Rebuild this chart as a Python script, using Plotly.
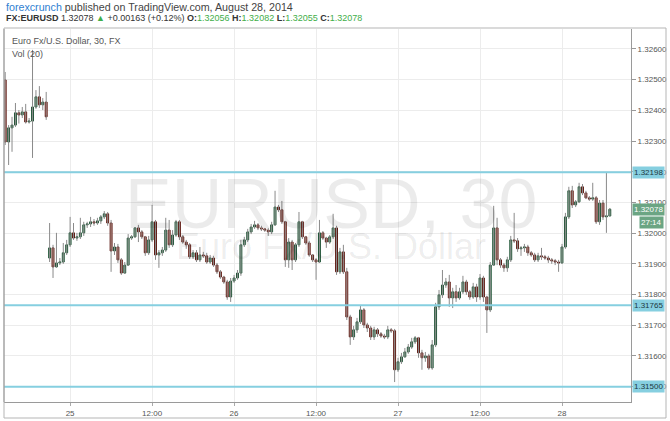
import plotly.graph_objects as go

# ---------------- data (EUR/USD, 30 min bars) ----------------
opens = [1.32499, 1.32297, 1.32343, 1.32352, 1.32392, 1.32385, 1.32395, 1.32362, 1.32365, 1.32411,
         1.32444, 1.32418, 1.32427,
         1.31919, 1.31952, 1.31890, 1.31903, 1.31906, 1.31936, 1.31962, 1.32001, 1.31984, 1.31988,
         1.32001, 1.32027, 1.32030, 1.32037, 1.32033, 1.32040, 1.32053, 1.32063, 1.32033, 1.31942,
         1.31955, 1.31913, 1.31870, 1.31896, 1.31984, 1.31988, 1.32017, 1.32004, 1.31988, 1.31936,
         1.31978, 1.32037, 1.31929, 1.31936, 1.31945, 1.32010, 1.31962, 1.31994, 1.32037, 1.31988,
         1.31971, 1.31962, 1.31923, 1.31936, 1.31913, 1.31929, 1.31926, 1.31906, 1.31919, 1.31896,
         1.31874, 1.31857, 1.31841, 1.31792, 1.31844, 1.31854, 1.31870, 1.31962, 1.31978, 1.32004,
         1.32020, 1.32027, 1.32017, 1.32014, 1.32010, 1.32004, 1.32027, 1.32085, 1.32076, 1.32037,
         1.31913, 1.31971, 1.31913, 1.31962, 1.32037, 1.31988, 1.31968, 1.31929, 1.31913, 1.31906,
         1.32001, 1.31984, 1.31971, 1.31988, 1.32017, 1.31874, 1.31939, 1.31874, 1.31727, 1.31662,
         1.31685, 1.31711, 1.31750, 1.31701, 1.31691, 1.31662, 1.31685, 1.31672, 1.31665, 1.31662,
         1.31685, 1.31682, 1.31555, 1.31581, 1.31597, 1.31613, 1.31629, 1.31646, 1.31659, 1.31610,
         1.31594, 1.31600, 1.31561, 1.31636, 1.31760, 1.31799, 1.31831, 1.31841, 1.31789, 1.31809,
         1.31789, 1.31809, 1.31841, 1.31809, 1.31792, 1.31825, 1.31792, 1.31854, 1.31792, 1.31750,
         1.31896, 1.32017, 1.31913, 1.31896, 1.31887, 1.31913, 1.31978, 1.31975, 1.31949, 1.31952,
         1.31955, 1.31936, 1.31929, 1.31913, 1.31926, 1.31923, 1.31919, 1.31913, 1.31910, 1.31906,
         1.31903, 1.31955, 1.32053, 1.32138, 1.32092, 1.32102, 1.32151, 1.32131, 1.32115, 1.32111,
         1.32115, 1.32037, 1.32098, 1.32053, 1.32056]
highs = [1.32525, 1.32352, 1.32379, 1.32424, 1.32401, 1.32411, 1.32421, 1.32375, 1.32597, 1.32466,
         1.32479, 1.32440, 1.32460,
         1.32033, 1.31962, 1.32001, 1.31919, 1.31968, 1.31978, 1.32053, 1.32033, 1.32001, 1.32050,
         1.32037, 1.32037, 1.32053, 1.32046, 1.32050, 1.32059, 1.32072, 1.32069, 1.32043, 1.31968,
         1.31965, 1.31919, 1.31906, 1.31997, 1.31994, 1.32020, 1.32027, 1.32010, 1.31991, 1.31991,
         1.32092, 1.32043, 1.31945, 1.31955, 1.32050, 1.32043, 1.32010, 1.32043, 1.32043, 1.31994,
         1.31978, 1.31968, 1.31945, 1.31945, 1.31955, 1.31939, 1.31936, 1.31929, 1.31926, 1.31903,
         1.31880, 1.31861, 1.31848, 1.31854, 1.31864, 1.31880, 1.31978, 1.31988, 1.32014, 1.32030,
         1.32040, 1.32033, 1.32024, 1.32017, 1.32017, 1.32037, 1.32138, 1.32092, 1.32105, 1.32040,
         1.31984, 1.31978, 1.31968, 1.32069, 1.32040, 1.31991, 1.31975, 1.31932, 1.31919, 1.32043,
         1.32007, 1.31988, 1.31994, 1.32063, 1.32024, 1.31952, 1.31962, 1.31887, 1.31734, 1.31698,
         1.31724, 1.31763, 1.31756, 1.31708, 1.31698, 1.31695, 1.31691, 1.31678, 1.31672, 1.31698,
         1.31691, 1.31688, 1.31594, 1.31610, 1.31626, 1.31639, 1.31659, 1.31665, 1.31662, 1.31620,
         1.31613, 1.31607, 1.31652, 1.31773, 1.31815, 1.31880, 1.31854, 1.31864, 1.31822, 1.31831,
         1.31822, 1.31861, 1.31848, 1.31815, 1.31838, 1.31835, 1.31867, 1.31861, 1.31796, 1.31906,
         1.32089, 1.32050, 1.31919, 1.31903, 1.31923, 1.31991, 1.32066, 1.31984, 1.31958, 1.31965,
         1.31962, 1.31942, 1.31936, 1.31936, 1.31952, 1.31929, 1.31926, 1.31919, 1.31916, 1.31913,
         1.31965, 1.32066, 1.32151, 1.32154, 1.32108, 1.32164, 1.32160, 1.32138, 1.32121, 1.32164,
         1.32121, 1.32108, 1.32108, 1.32196, 1.32082]
lows = [1.32287, 1.32222, 1.32265, 1.32346, 1.32357, 1.32375, 1.32357, 1.32357, 1.32245, 1.32405,
        1.32408, 1.32401, 1.32369,
        1.31906, 1.31854, 1.31887, 1.31896, 1.31900, 1.31929, 1.31955, 1.31978, 1.31975, 1.31981,
        1.31991, 1.32017, 1.32020, 1.32024, 1.32027, 1.32030, 1.32046, 1.32024, 1.31874, 1.31929,
        1.31903, 1.31864, 1.31867, 1.31893, 1.31978, 1.31984, 1.31971, 1.31981, 1.31926, 1.31929,
        1.31971, 1.31913, 1.31887, 1.31926, 1.31939, 1.31952, 1.31955, 1.31988, 1.31978, 1.31965,
        1.31949, 1.31916, 1.31916, 1.31906, 1.31906, 1.31919, 1.31900, 1.31900, 1.31890, 1.31867,
        1.31851, 1.31835, 1.31783, 1.31776, 1.31838, 1.31848, 1.31861, 1.31955, 1.31971, 1.31997,
        1.32014, 1.32010, 1.32007, 1.32004, 1.31991, 1.31997, 1.32024, 1.32069, 1.32030, 1.31890,
        1.31887, 1.31880, 1.31906, 1.31955, 1.31981, 1.31962, 1.31923, 1.31906, 1.31848, 1.31903,
        1.31978, 1.31952, 1.31965, 1.31981, 1.31864, 1.31867, 1.31867, 1.31717, 1.31636, 1.31652,
        1.31675, 1.31704, 1.31691, 1.31678, 1.31652, 1.31652, 1.31662, 1.31659, 1.31655, 1.31655,
        1.31675, 1.31515, 1.31548, 1.31574, 1.31594, 1.31607, 1.31623, 1.31639, 1.31594, 1.31555,
        1.31581, 1.31555, 1.31555, 1.31629, 1.31750, 1.31789, 1.31822, 1.31760, 1.31756, 1.31776,
        1.31783, 1.31802, 1.31799, 1.31783, 1.31786, 1.31776, 1.31783, 1.31776, 1.31675, 1.31743,
        1.31893, 1.31896, 1.31887, 1.31874, 1.31874, 1.31906, 1.31968, 1.31939, 1.31926, 1.31939,
        1.31926, 1.31923, 1.31906, 1.31906, 1.31913, 1.31913, 1.31903, 1.31900, 1.31896, 1.31874,
        1.31900, 1.31949, 1.32046, 1.32082, 1.32085, 1.32098, 1.32124, 1.32111, 1.32105, 1.32105,
        1.32030, 1.32027, 1.32043, 1.32001, 1.32055]
closes = [1.32297, 1.32343, 1.32352, 1.32392, 1.32385, 1.32395, 1.32362, 1.32365, 1.32411, 1.32444,
          1.32418, 1.32427, 1.32379,
          1.31952, 1.31890, 1.31903, 1.31906, 1.31936, 1.31962, 1.32001, 1.31984, 1.31988, 1.32001,
          1.32027, 1.32030, 1.32037, 1.32033, 1.32040, 1.32053, 1.32063, 1.32033, 1.31942, 1.31955,
          1.31913, 1.31870, 1.31896, 1.31984, 1.31988, 1.32017, 1.32004, 1.31988, 1.31936, 1.31978,
          1.32037, 1.31929, 1.31936, 1.31945, 1.32010, 1.31962, 1.31994, 1.32037, 1.31988, 1.31971,
          1.31962, 1.31923, 1.31936, 1.31913, 1.31929, 1.31926, 1.31906, 1.31919, 1.31896, 1.31874,
          1.31857, 1.31841, 1.31792, 1.31844, 1.31854, 1.31870, 1.31962, 1.31978, 1.32004, 1.32020,
          1.32027, 1.32017, 1.32014, 1.32010, 1.32004, 1.32027, 1.32085, 1.32076, 1.32037, 1.31913,
          1.31971, 1.31913, 1.31962, 1.32037, 1.31988, 1.31968, 1.31929, 1.31913, 1.31906, 1.32001,
          1.31984, 1.31971, 1.31988, 1.32017, 1.31874, 1.31939, 1.31874, 1.31727, 1.31662, 1.31685,
          1.31711, 1.31750, 1.31701, 1.31691, 1.31662, 1.31685, 1.31672, 1.31665, 1.31662, 1.31685,
          1.31682, 1.31555, 1.31581, 1.31597, 1.31613, 1.31629, 1.31646, 1.31659, 1.31610, 1.31594,
          1.31600, 1.31561, 1.31636, 1.31760, 1.31799, 1.31831, 1.31841, 1.31789, 1.31809, 1.31789,
          1.31809, 1.31841, 1.31809, 1.31792, 1.31825, 1.31792, 1.31854, 1.31792, 1.31750, 1.31896,
          1.32017, 1.31913, 1.31896, 1.31887, 1.31913, 1.31978, 1.31975, 1.31949, 1.31952, 1.31955,
          1.31936, 1.31929, 1.31913, 1.31926, 1.31923, 1.31919, 1.31913, 1.31910, 1.31906, 1.31903,
          1.31955, 1.32053, 1.32138, 1.32092, 1.32102, 1.32151, 1.32131, 1.32115, 1.32111, 1.32115,
          1.32037, 1.32098, 1.32053, 1.32056, 1.32078]

time_tick_bars = [19, 43, 67, 91, 115, 139, 163]
time_tick_labels = ["25", "12:00", "26", "12:00", "27", "12:00", "28"]
price_ticks = [1.315, 1.316, 1.317, 1.318, 1.319, 1.320, 1.321, 1.322, 1.323, 1.324, 1.325, 1.326]
price_tick_labels = ["1.31500", "1.31600", "1.31700", "1.31800", "1.31900", "1.32000",
                     "1.32100", "1.32200", "1.32300", "1.32400", "1.32500", "1.32600"]
levels = [1.32198, 1.31765, 1.31500]
level_labels = ["1.32198", "1.31765", "1.31500"]
last_price = 1.32078
last_price_label = "1.32078"
countdown_label = "27:14"

# ---------------- figure ----------------
bars = list(range(len(opens)))
FONT = "Liberation Sans, Arial, sans-serif"

wx, wy = [], []
for i, h, l in zip(bars, highs, lows):
    wx += [i, i, None]
    wy += [l, h, None]

body_hi = [max(o, c) for o, c in zip(opens, closes)]
body_lo = [min(o, c) for o, c in zip(opens, closes)]

fig = go.Figure()
fig.add_trace(go.Scatter(x=wx, y=wy, mode="lines", line=dict(color="#8a8a8a", width=1),
                         hoverinfo="skip", showlegend=False))
fig.add_trace(go.Candlestick(
    x=bars, open=opens, high=body_hi, low=body_lo, close=closes,
    increasing=dict(fillcolor="#6ba583", line=dict(color="#225437", width=1)),
    decreasing=dict(fillcolor="#d75442", line=dict(color="#5b1a13", width=1)),
    whiskerwidth=0, showlegend=False))

W, H = 670, 421
ml, mr, mt, mb = 4, 39, 29, 19
pw, ph = W - ml - mr, H - mt - mb

def px(xp):
    return (xp - ml) / pw

def py(yp):
    return (H - mb - yp) / ph

shapes = []
for lv in levels:
    shapes.append(dict(type="line", xref="paper", yref="y", x0=0, x1=1, y0=lv, y1=lv,
                       line=dict(color="#86cfe0", width=2)))
# outer frame
shapes.append(dict(type="rect", xref="paper", yref="paper", x0=0, x1=px(666), y0=py(418), y1=py(28),
                   line=dict(color="#b5b5b5", width=1), fillcolor="rgba(0,0,0,0)", layer="above"))
# left border of plot
shapes.append(dict(type="line", xref="paper", yref="paper", x0=0, x1=0, y0=0, y1=1,
                   line=dict(color="#9a9a9a", width=1)))

annotations = []
# watermark
annotations.append(dict(text="EURUSD, 30", xref="paper", yref="paper", x=px(331), y=py(204),
                        xanchor="center", yanchor="middle", showarrow=False,
                        font=dict(family=FONT, size=70, color="rgba(0,0,0,0.08)")))
annotations.append(dict(text="Euro Fx/U.S. Dollar", xref="paper", yref="paper", x=px(331), y=py(247),
                        xanchor="center", yanchor="middle", showarrow=False,
                        font=dict(family=FONT, size=36, color="rgba(0,0,0,0.08)")))
# header
annotations.append(dict(
    text="<span style='color:#2f80d1'>forexcrunch</span> published on TradingView.com, August 28, 2014",
    xref="paper", yref="paper", x=px(4), y=py(7), xanchor="left", yanchor="middle", showarrow=False,
    font=dict(family=FONT, size=10.7, color="#444")))
g = "#3fae49"
annotations.append(dict(
    text=("<b>FX:EURUSD</b> 1.32078 <span style='color:%s'>▲</span> +0.00163 (+0.12%%) "
          "<b>O:</b><span style='color:%s'>1.32056</span> <b>H:</b><span style='color:%s'>1.32082</span> "
          "<b>L:</b><span style='color:%s'>1.32055</span> <b>C:</b><span style='color:%s'>1.32078</span>")
         % (g, g, g, g, g),
    xref="paper", yref="paper", x=px(4), y=py(17.5), xanchor="left", yanchor="middle", showarrow=False,
    font=dict(family=FONT, size=9, color="#333")))
# chart title & volume label
annotations.append(dict(text="Euro Fx/U.S. Dollar, 30, FX", xref="paper", yref="paper", x=px(10), y=py(41),
                        xanchor="left", yanchor="middle", showarrow=False,
                        font=dict(family=FONT, size=9, color="#555")))
annotations.append(dict(text="Vol (20)", xref="paper", yref="paper", x=px(10), y=py(53.5),
                        xanchor="left", yanchor="middle", showarrow=False,
                        font=dict(family=FONT, size=9, color="#555")))
# level labels
for lv, lt in zip(levels, level_labels):
    annotations.append(dict(text=lt, xref="paper", yref="y", x=1, y=lv, xanchor="left", yanchor="middle",
                            showarrow=False, bgcolor="#86cfe0", borderpad=1, xshift=1,
                            font=dict(family=FONT, size=8, color="#1d3940")))
annotations.append(dict(text=last_price_label, xref="paper", yref="y", x=1, y=last_price, xanchor="left",
                        yanchor="middle", showarrow=False, bgcolor="#6ba583", borderpad=1, xshift=1,
                        font=dict(family=FONT, size=8, color="white")))
annotations.append(dict(text=countdown_label, xref="paper", yref="y", x=px(664), y=last_price, xanchor="right",
                        yanchor="middle", showarrow=False, bgcolor="#6ba583", borderpad=1, yshift=-13,
                        font=dict(family=FONT, size=8, color="white")))

fig.update_layout(
    width=W, height=H, margin=dict(l=ml, r=mr, t=mt, b=mb, autoexpand=False),
    paper_bgcolor="white", plot_bgcolor="white", boxgap=0.2,
    shapes=shapes, annotations=annotations, showlegend=False,
    xaxis=dict(range=[-0.35, 183.2], tickvals=time_tick_bars, ticktext=time_tick_labels,
               showgrid=True, gridcolor="#ececec", gridwidth=1, zeroline=False,
               showline=True, linecolor="#9a9a9a", linewidth=1, mirror=False,
               ticks="outside", ticklen=3, tickcolor="#aaaaaa",
               tickfont=dict(family=FONT, size=8, color="#555"),
               rangeslider=dict(visible=False), fixedrange=True),
    yaxis=dict(side="right", range=[1.31450, 1.32665], tickvals=price_ticks, ticktext=price_tick_labels,
               showgrid=True, gridcolor="#ececec", gridwidth=1, zeroline=False,
               showline=True, linecolor="#9a9a9a", linewidth=1,
               ticks="outside", ticklen=4, tickcolor="#999999",
               tickfont=dict(family=FONT, size=8, color="#555"), fixedrange=True),
)

fig.write_html("out.html", config={"displayModeBar": False},
               post_script="document.body.style.margin='0px';document.body.style.overflow='hidden';")
